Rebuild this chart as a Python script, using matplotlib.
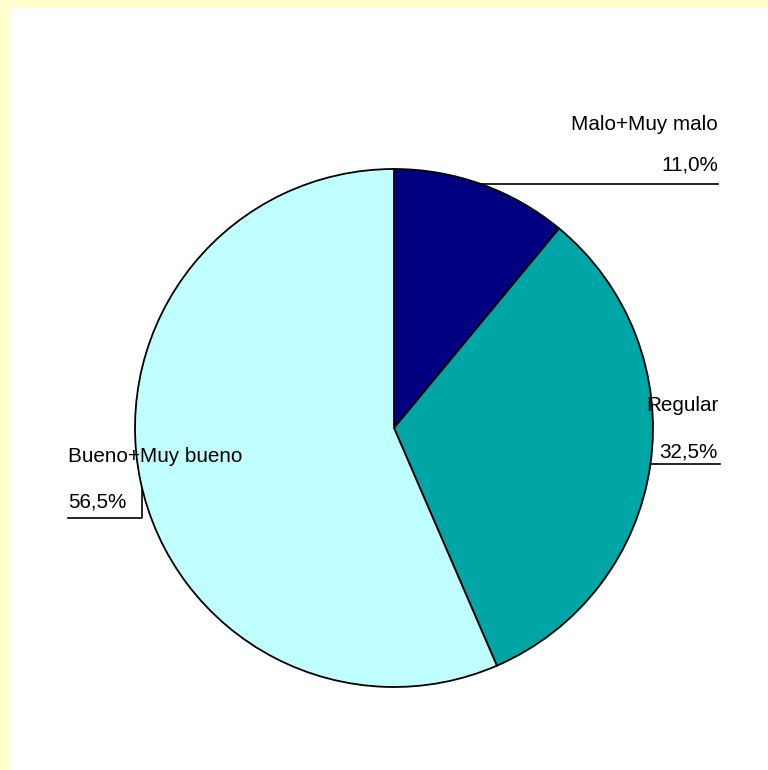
import numpy as np
import matplotlib
matplotlib.use("Agg")
import matplotlib.pyplot as plt
from matplotlib.patches import Rectangle

categories = ["Malo+Muy malo", "Regular", "Bueno+Muy bueno"]
values = [11.0, 32.5, 56.5]
value_labels = ["11,0%", "32,5%", "56,5%"]
colors = ["#000080", "#00A5A5", "#BFFFFF"]

W, H = 768, 770
fig = plt.figure(figsize=(W / 100, H / 100), dpi=100, facecolor="#FFFFCC")
ax = fig.add_axes([0, 0, 1, 1])
ax.set_xlim(0, W)
ax.set_ylim(0, H)
ax.set_aspect("equal")
ax.axis("off")

# white plot area inside the yellow frame
ax.add_patch(Rectangle((10, 0), W - 10, H - 8, facecolor="white", edgecolor="none", zorder=0))

cx, cy, r = 394, H - 428, 259
wedges, _ = ax.pie(values, colors=colors, startangle=90, counterclock=False,
                   center=(cx, cy), radius=r,
                   wedgeprops=dict(edgecolor="black", linewidth=1.3))
ax.set_xlim(0, W)
ax.set_ylim(0, H)

font = dict(family=["Liberation Sans", "DejaVu Sans"], fontsize=14.9, color="black")

def mid_point(w):
    a = np.deg2rad((w.theta1 + w.theta2) / 2)
    return cx + r * np.cos(a), cy + r * np.sin(a)

# Malo+Muy malo: horizontal leader to the right
x0, y0 = mid_point(wedges[0])
ax.plot([x0, 718], [y0, y0], color="black", lw=1.2)
ax.text(718, y0 + 14, value_labels[0], ha="right", va="baseline", **font)
ax.text(718, y0 + 54, categories[0], ha="right", va="baseline", **font)

# Regular
x1, y1 = mid_point(wedges[1])
ax.plot([x1, 720], [y1, y1], color="black", lw=1.2)
ax.text(718, y1 + 7, value_labels[1], ha="right", va="baseline", **font)
ax.text(646, y1 + 53, categories[1], ha="left", va="baseline", **font)

# Bueno+Muy bueno: elbow leader to the left
x2, y2 = mid_point(wedges[2])
ly = H - 518
ax.plot([x2 + 2, x2 + 2, 68], [y2 - 8, ly, ly], color="black", lw=1.2)
ax.text(68, ly + 11, value_labels[2], ha="left", va="baseline", **font)
ax.text(68, ly + 56, categories[2], ha="left", va="baseline", **font)

fig.savefig("out.png", dpi=100, facecolor=fig.get_facecolor())
